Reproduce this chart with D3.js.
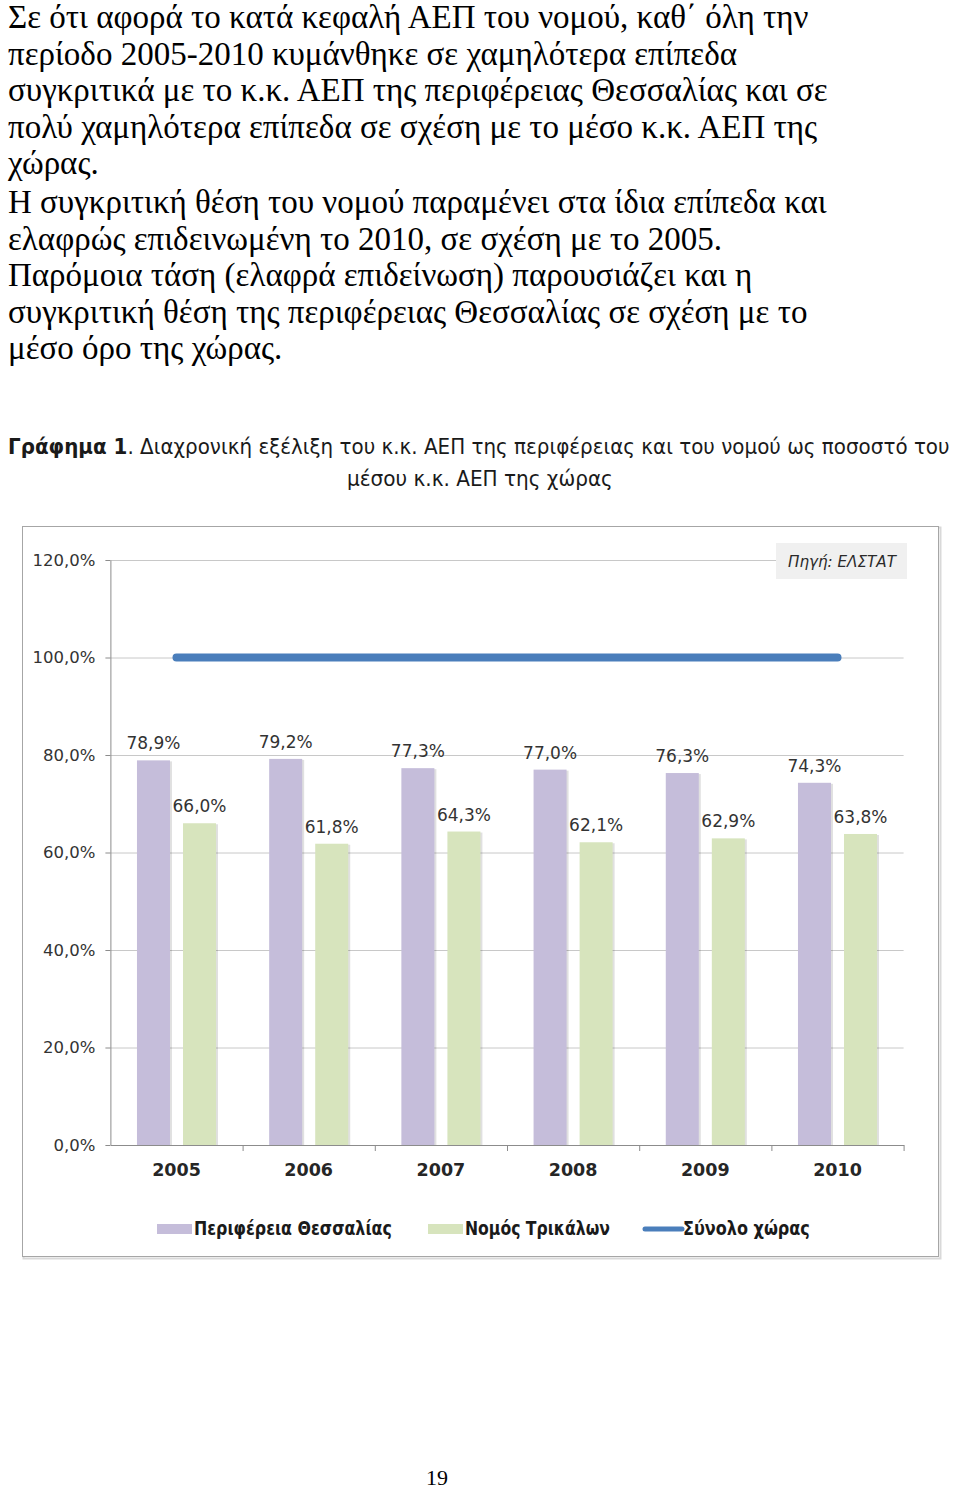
<!DOCTYPE html>
<html><head><meta charset="utf-8">
<script src="https://cdn.jsdelivr.net/npm/d3@7"></script>
<style>body{margin:0;background:#fff}svg{display:block}</style>
</head><body><svg id="c" width="960" height="1490"></svg>
<script>
// ---------- data ----------
const years = ["2005", "2006", "2007", "2008", "2009", "2010"];
const regionValues = [78.9, 79.2, 77.3, 77.0, 76.3, 74.3];
const prefectureValues = [66.0, 61.8, 64.3, 62.1, 62.9, 63.8];
const countryValues = [100, 100, 100, 100, 100, 100];
const yTicks = [0, 20, 40, 60, 80, 100, 120];
const seriesNames = ["Περιφέρεια Θεσσαλίας", "Νομός Τρικάλων", "Σύνολο χώρας"];
const paragraph1 = [
  "Σε ότι αφορά το κατά κεφαλή ΑΕΠ του νομού, καθ΄ όλη την",
  "περίοδο 2005-2010 κυμάνθηκε σε χαμηλότερα επίπεδα",
  "συγκριτικά με το κ.κ. ΑΕΠ της περιφέρειας Θεσσαλίας και σε",
  "πολύ χαμηλότερα επίπεδα σε σχέση με το μέσο κ.κ. ΑΕΠ της",
  "χώρας."
];
const paragraph2 = [
  "Η συγκριτική θέση του νομού παραμένει στα ίδια επίπεδα και",
  "ελαφρώς επιδεινωμένη το 2010, σε σχέση με το 2005.",
  "Παρόμοια τάση (ελαφρά επιδείνωση) παρουσιάζει και η",
  "συγκριτική θέση της περιφέρειας Θεσσαλίας σε σχέση με το",
  "μέσο όρο της χώρας."
];
const titleBold = "Γράφημα 1";
const titleRest = ". Διαχρονική εξέλιξη του κ.κ. ΑΕΠ της περιφέρειας και του νομού ως ποσοστό του";
const titleLine2 = "μέσου κ.κ. ΑΕΠ της χώρας";
const sourceLabel = "Πηγή: ΕΛΣΤΑΤ";
const pageNumber = "19";

// ---------- styles ----------
const C = {
  region: "#c5bdda",
  prefecture: "#d7e4bd",
  country: "#4a7ebb",
  grid: "#c8c8c8",
  axis: "#8c8c8c",
  text: "#333333"
};
const sans = "'DejaVu Sans', Verdana, sans-serif";
const serif = "'Liberation Serif', 'Times New Roman', serif";

const svg = d3.select("#c");
svg.append("rect").attr("width", 960).attr("height", 1490).attr("fill", "#fff");

// fit a text horizontally into a target width by scaling glyphs (narrow font look)
function fitText(sel, x, yPos, width, anchor) {
  const w = sel.node().getComputedTextLength();
  const s = Math.min(1.2, width / w);
  const left = anchor === "middle" ? x - width / 2 : x;
  sel.attr("x", 0).attr("y", 0).attr("text-anchor", "start")
    .attr("transform", `translate(${left},${yPos}) scale(${s},1)`);
}

// ---------- paragraph ----------
const para = svg.append("g").attr("font-family", serif).attr("font-size", 33).attr("fill", "#000");
paragraph1.forEach((t, i) => para.append("text").attr("x", 8).attr("y", 28 + i * 36.6).text(t));
paragraph2.forEach((t, i) => para.append("text").attr("x", 8).attr("y", 213 + i * 36.5).text(t));

// ---------- title ----------
const t1 = svg.append("text").attr("font-family", sans).attr("font-size", 21).attr("fill", "#1a1a1a");
t1.append("tspan").attr("font-weight", "bold").text(titleBold);
t1.append("tspan").text(titleRest);
fitText(t1, 8, 454, 942, "start");
const t2 = svg.append("text").attr("font-family", sans).attr("font-size", 21).attr("fill", "#1a1a1a")
  .text(titleLine2);
fitText(t2, 480, 486, 266, "middle");

// ---------- frame ----------
svg.append("rect").attr("x", 23.5).attr("y", 527.5).attr("width", 917).attr("height", 731)
  .attr("fill", "none").attr("stroke", "#d9d9d9").attr("stroke-width", 2);
svg.append("rect").attr("x", 22.5).attr("y", 526.5).attr("width", 916).attr("height", 730)
  .attr("fill", "#fff").attr("stroke", "#a6a6a6").attr("stroke-width", 1);

// ---------- scales ----------
const plotLeft = 110.4, plotRight = 903.6;
const x0 = d3.scaleBand().domain(years).range([plotLeft, plotRight])
  .paddingInner(0.402).paddingOuter(0.201);
const x1 = d3.scaleBand().domain(["region", "prefecture"]).range([0, x0.bandwidth()])
  .paddingInner(0.283);
const y = d3.scaleLinear().domain([0, 120]).range([1145, 560]);
const xEdges = d3.scaleLinear().domain([0, years.length]).range([plotLeft, plotRight]);

const locale = d3.formatLocale({decimal: ",", thousands: ".", grouping: [3], currency: ["", "€"]});
const fmt = v => locale.format(".1f")(v) + "%";

// ---------- grid ----------
const grid = svg.append("g").attr("transform", `translate(${plotLeft},0)`)
  .call(d3.axisLeft(y).tickValues(yTicks.filter(d => d > 0)).tickSize(-(plotRight - plotLeft)).tickFormat(""));
grid.select(".domain").remove();
grid.selectAll("line").attr("stroke", C.grid);

// y axis
const ya = svg.append("g").attr("transform", `translate(${plotLeft},0)`)
  .call(d3.axisLeft(y).tickValues(yTicks).tickSizeInner(5).tickSizeOuter(0).tickPadding(10).tickFormat(fmt));
ya.select(".domain").attr("stroke", C.axis);
ya.selectAll(".tick line").attr("stroke", C.axis);
ya.selectAll(".tick text").attr("font-family", sans).attr("font-size", 16.5).attr("fill", C.text);

// x axis
const xa = svg.append("g").attr("transform", `translate(0,${y(0)})`)
  .call(d3.axisBottom(xEdges).ticks(years.length).tickSizeInner(6).tickSizeOuter(0).tickFormat(""));
xa.select(".domain").attr("stroke", C.axis);
xa.selectAll(".tick line").attr("stroke", C.axis);
xa.selectAll(".tick").filter(d => d === 0).remove();

svg.append("g").selectAll("text").data(years).join("text")
  .attr("x", d => x0(d) + x0.bandwidth() / 2).attr("y", 1176)
  .attr("text-anchor", "middle").attr("font-family", sans).attr("font-weight", "bold")
  .attr("font-size", 17.5).attr("fill", "#262626").text(d => d);

// ---------- bars ----------
const rows = years.map((yr, i) => ({year: yr, region: regionValues[i], prefecture: prefectureValues[i]}));
const barG = svg.append("g");
["region", "prefecture"].forEach(key => {
  // subtle shadow
  barG.selectAll(null).data(rows).join("rect")
    .attr("x", d => x0(d.year) + x1(key) + 2).attr("y", d => y(d[key]) + 1)
    .attr("width", x1.bandwidth()).attr("height", d => y(0) - y(d[key]) - 1)
    .attr("fill", "#000").attr("opacity", 0.12);
  barG.selectAll(null).data(rows).join("rect")
    .attr("x", d => x0(d.year) + x1(key)).attr("y", d => y(d[key]))
    .attr("width", x1.bandwidth()).attr("height", d => y(0) - y(d[key]))
    .attr("fill", C[key]);
  barG.selectAll(null).data(rows).join("text")
    .attr("x", d => x0(d.year) + x1(key) + x1.bandwidth() / 2)
    .attr("y", d => y(d[key]) - 11)
    .attr("text-anchor", "middle").attr("font-family", sans).attr("font-size", 17)
    .attr("fill", C.text).text(d => fmt(d[key]));
});

// ---------- country line ----------
const line = d3.line().x((d, i) => x0(years[i]) + x0.bandwidth() / 2).y(d => y(d));
svg.append("path").datum(countryValues).attr("d", line)
  .attr("fill", "none").attr("stroke", C.country).attr("stroke-width", 8)
  .attr("stroke-linecap", "round").attr("stroke-linejoin", "round");

// ---------- source box ----------
svg.append("rect").attr("x", 776).attr("y", 543).attr("width", 131).attr("height", 36).attr("fill", "#f0f0f0");
const src = svg.append("text").attr("font-family", sans).attr("font-style", "italic").attr("font-size", 15.5)
  .attr("fill", "#2a2a2a").text(sourceLabel);
fitText(src, 842, 567, 108, "middle");

// ---------- legend ----------
const lg = svg.append("g").attr("font-family", sans).attr("font-size", 20)
  .attr("font-weight", "bold").attr("fill", "#1a1a1a");
const legendItems = [
  {name: seriesNames[0], type: "rect", color: C.region, sx: 157, tx: 194, tw: 198},
  {name: seriesNames[1], type: "rect", color: C.prefecture, sx: 428, tx: 465, tw: 145},
  {name: seriesNames[2], type: "line", color: C.country, sx: 645, tx: 683, tw: 127}
];
legendItems.forEach(it => {
  if (it.type === "rect") {
    lg.append("rect").attr("x", it.sx).attr("y", 1224).attr("width", 35).attr("height", 10).attr("fill", it.color);
  } else {
    lg.append("line").attr("x1", it.sx).attr("x2", it.sx + 37).attr("y1", 1229).attr("y2", 1229)
      .attr("stroke", it.color).attr("stroke-width", 5).attr("stroke-linecap", "round");
  }
  const tx = lg.append("text").text(it.name);
  fitText(tx, it.tx, 1235, it.tw, "start");
});

// ---------- page number ----------
svg.append("text").attr("x", 437).attr("y", 1485).attr("text-anchor", "middle")
  .attr("font-family", serif).attr("font-size", 22).attr("fill", "#000").text(pageNumber);
</script></body></html>
